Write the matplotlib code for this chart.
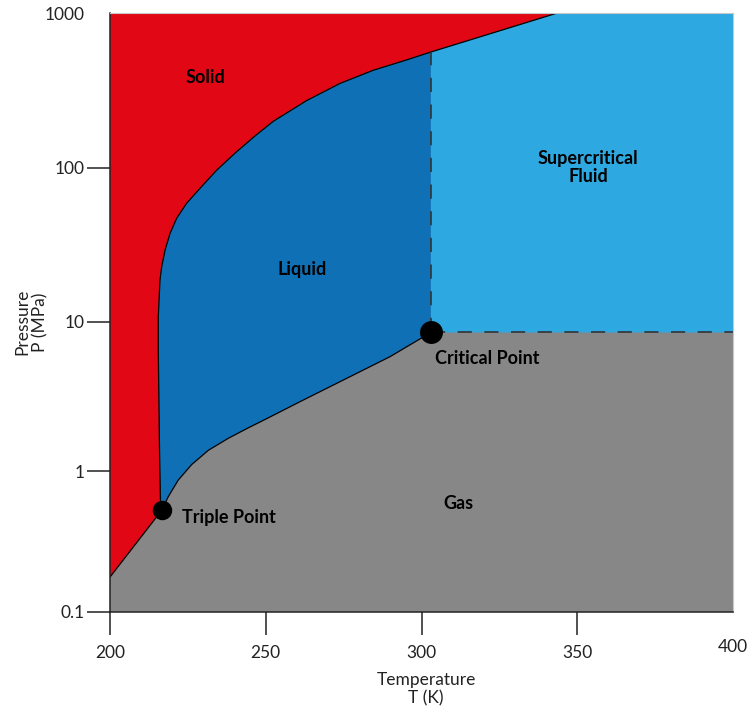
import numpy as np
import matplotlib
matplotlib.use('Agg')
import matplotlib.pyplot as plt
from matplotlib.transforms import ScaledTranslation

plt.rcParams['font.family'] = ['Lato', 'DejaVu Sans']

# phase boundaries, temperature in K, pressure in MPa
subl_T = [200.0, 216.7]
subl_P = [0.177, 0.53]

vap_T = [216.7, 218.7, 221.9, 226.2, 231.6, 238.0, 244.4, 249.8, 261.0, 277.0, 289.9, 303.0]
vap_P = [0.53, 0.658, 0.863, 1.105, 1.38, 1.66, 1.95, 2.22, 2.92, 4.29, 5.85, 8.5]

melt_T = [216.7, 216.2, 215.9, 215.7, 215.5, 215.5, 216.05, 216.6, 217.7, 219.3,
          221.4, 224.6, 228.9, 234.3, 240.4, 246.4, 252.4, 263.1, 273.8, 284.5,
          295.2, 303.0, 343.6]
melt_P = [0.53, 0.62, 1.38, 3.0, 6.5, 10.8, 18.7, 22.9, 29.4, 37.7,
          47.1, 59.0, 73.8, 97, 126, 160, 200, 272, 351, 427,
          498, 560, 1000]

triple = (216.7, 0.53)
critical = (303.0, 8.5)

t_min, t_max = 200, 400
p_min, p_max = 0.1, 1000

x_ticks = [200, 250, 300, 350, 400]
y_ticks = [0.1, 1, 10, 100, 1000]
y_tick_labels = ['0.1', '1', '10', '100', '1000']

red = '#e20714'
dark_blue = '#1070b5'
light_blue = '#2ea8e1'
grey = '#878787'

# pressure axis: logarithmic, decades of slightly different height
dec_log = [-1, 0, 1, 2, 3]
dec_pos = [0, 0.941, 1.937, 2.965, 4.0]


def fwd(p):
    return np.interp(np.log10(np.maximum(p, 1e-12)), dec_log, dec_pos)


def inv(v):
    return 10 ** np.interp(v, dec_pos, dec_log)


fig = plt.figure(figsize=(7.48, 7.07), dpi=100)
ax = fig.add_axes([110 / 748, 95 / 707, 623 / 748, 599 / 707])
ax.set_yscale('function', functions=(fwd, inv))
ax.set_xlim(t_min, t_max)
ax.set_ylim(p_min, p_max)
ax.set_facecolor(light_blue)

# gas
gas_T = [t_min] + subl_T + vap_T[1:] + [t_max, t_max]
gas_P = [p_min] + subl_P + vap_P[1:] + [critical[1], p_min]
ax.fill(gas_T, gas_P, color=grey, lw=0)

# solid
sol_T = subl_T + melt_T[1:] + [t_min]
sol_P = subl_P + melt_P[1:] + [p_max]
ax.fill(sol_T, sol_P, color=red, lw=0)

# liquid
melt_T_arr = np.array(melt_T)
melt_P_arr = np.array(melt_P)
keep = melt_T_arr <= critical[0]
liq_T = vap_T + list(melt_T_arr[keep][::-1])
liq_P = vap_P + list(melt_P_arr[keep][::-1])
ax.fill(liq_T, liq_P, color=dark_blue, lw=0)

# boundary lines
for T, P in [(subl_T, subl_P), (vap_T, vap_P), (melt_T, melt_P)]:
    ax.plot(T, P, color='black', lw=0.9, solid_joinstyle='round')

p_melt_c = melt_P[melt_T.index(critical[0])]
ax.plot([critical[0], critical[0]], [critical[1], p_melt_c], color='#333333',
        lw=1.2, dashes=[8.5, 7.5])
ax.plot([critical[0], t_max], [critical[1], critical[1]], color='#333333',
        lw=1.2, dashes=[8.5, 7.5])

ax.plot(*triple, 'o', color='black', ms=13, zorder=5)
ax.plot(*critical, 'o', color='black', ms=15.5, zorder=5)

bold = dict(fontsize=13, fontweight='bold', color='black')
ax.text(230.5, 386, 'Solid', ha='center', va='center', **bold)
ax.text(261.6, 21.8, 'Liquid', ha='center', va='center', **bold)
ax.text(353.5, 101, 'Supercritical\nFluid', ha='center', va='center',
        linespacing=1.1, **bold)
ax.text(311.7, 0.59, 'Gas', ha='center', va='center', **bold)
ax.text(223.0, 0.47, 'Triple Point', ha='left', va='center', **bold)
ax.text(304.3, 5.7, 'Critical Point', ha='left', va='center', **bold)

# axes
ax.set_xticks(x_ticks)
ax.set_xticklabels([str(t) for t in x_ticks])
ax.set_yticks(y_ticks)
ax.set_yticklabels(y_tick_labels)
ax.minorticks_off()
ax.tick_params(axis='both', direction='out', length=16.5, width=1.1,
               color='#222222', labelsize=12.5, labelcolor='#222222')
ax.tick_params(axis='x', pad=7)
ax.tick_params(axis='y', pad=2)
ax.xaxis.get_major_ticks()[-1].tick1line.set_visible(False)
ax.yaxis.get_major_ticks()[-1].tick1line.set_visible(False)
lab = ax.get_xticklabels()[-1]
lab.set_transform(lab.get_transform() + ScaledTranslation(0, 4 / 72, fig.dpi_scale_trans))

for side in ['left', 'bottom']:
    ax.spines[side].set_color('#222222')
    ax.spines[side].set_linewidth(1.1)
for side in ['top', 'right']:
    ax.spines[side].set_color('#c8c8c8')
    ax.spines[side].set_linewidth(0.8)

fig.text(426 / 748, 1 - 689 / 707, 'Temperature\nT (K)', ha='center', va='center',
         fontsize=12.5, color='#222222', linespacing=1.15)
fig.text(31 / 748, 1 - 322 / 707, 'Pressure\nP (MPa)', ha='center', va='center',
         rotation=90, fontsize=12.5, color='#222222', linespacing=1.15)

fig.savefig('out.png', dpi=100)
